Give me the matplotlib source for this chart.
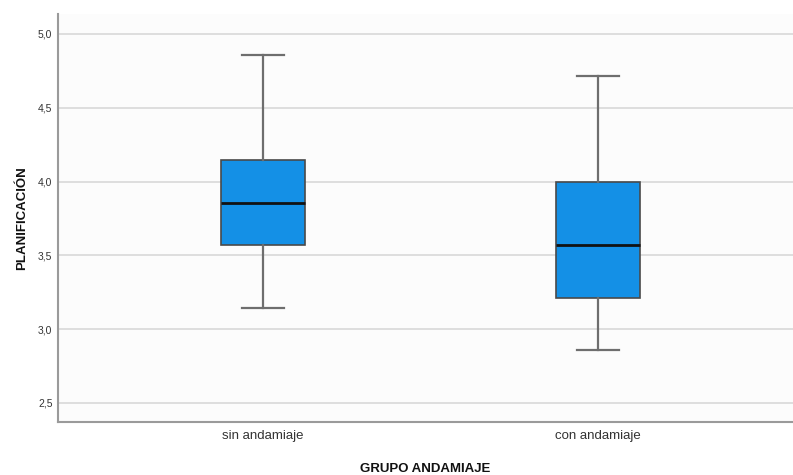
import matplotlib
matplotlib.use("Agg")
import matplotlib.pyplot as plt

plt.rcParams['font.family'] = ['Liberation Sans', 'DejaVu Sans']

categories = ["sin andamiaje", "con andamiaje"]
whislo = [3.143, 2.857]
q1 = [3.571, 3.214]
median = [3.857, 3.571]
q3 = [4.143, 4.000]
whishi = [4.857, 4.714]
yticks = [2.5, 3.0, 3.5, 4.0, 4.5, 5.0]
ytick_labels = ["2,5", "3,0", "3,5", "4,0", "4,5", "5,0"]

stats = []
for i, c in enumerate(categories):
    stats.append(dict(label=c, whislo=whislo[i], q1=q1[i], med=median[i],
                      q3=q3[i], whishi=whishi[i], fliers=[]))

fig = plt.figure(figsize=(7.93, 4.75), dpi=100)
fig.patch.set_facecolor("white")
ax = fig.add_axes([58/793, 53/475, 1 - 58/793, (422 - 14)/475])
ax.set_facecolor("#fcfcfc")

ax.bxp(stats, positions=[1, 2], widths=0.25, capwidths=0.125, patch_artist=True,
       showfliers=False,
       boxprops=dict(facecolor="#1490e6", edgecolor="#4a4a4a", linewidth=1.2),
       medianprops=dict(color="#111111", linewidth=2.0),
       whiskerprops=dict(color="#6e6e6e", linewidth=1.6),
       capprops=dict(color="#6e6e6e", linewidth=1.6),
       zorder=3)

ax.set_xlim(0.388, 2.582)
ax.set_ylim(2.371, 5.135)
ax.set_yticks(yticks)
ax.set_yticklabels(ytick_labels, fontsize=7.5, color="#333333")
ax.set_xticks([1, 2])
ax.set_xticklabels(categories, fontsize=9.5, color="#333333")
ax.tick_params(axis="both", length=0)
ax.tick_params(axis="y", pad=4)
ax.tick_params(axis="x", pad=6)
ax.yaxis.grid(True, color="#d9d9d9", linewidth=1.2, zorder=0)
ax.set_axisbelow(True)

for s in ["top", "right"]:
    ax.spines[s].set_visible(False)
for s in ["left", "bottom"]:
    ax.spines[s].set_color("#9a9a9a")
    ax.spines[s].set_linewidth(1.5)

ax.set_ylabel("PLANIFICACIÓN", fontsize=9.5, fontweight="bold", color="#111111", labelpad=7)
ax.set_xlabel("GRUPO ANDAMIAJE", fontsize=9.5, fontweight="bold", color="#111111", labelpad=15)

fig.savefig("out.png", dpi=100)
